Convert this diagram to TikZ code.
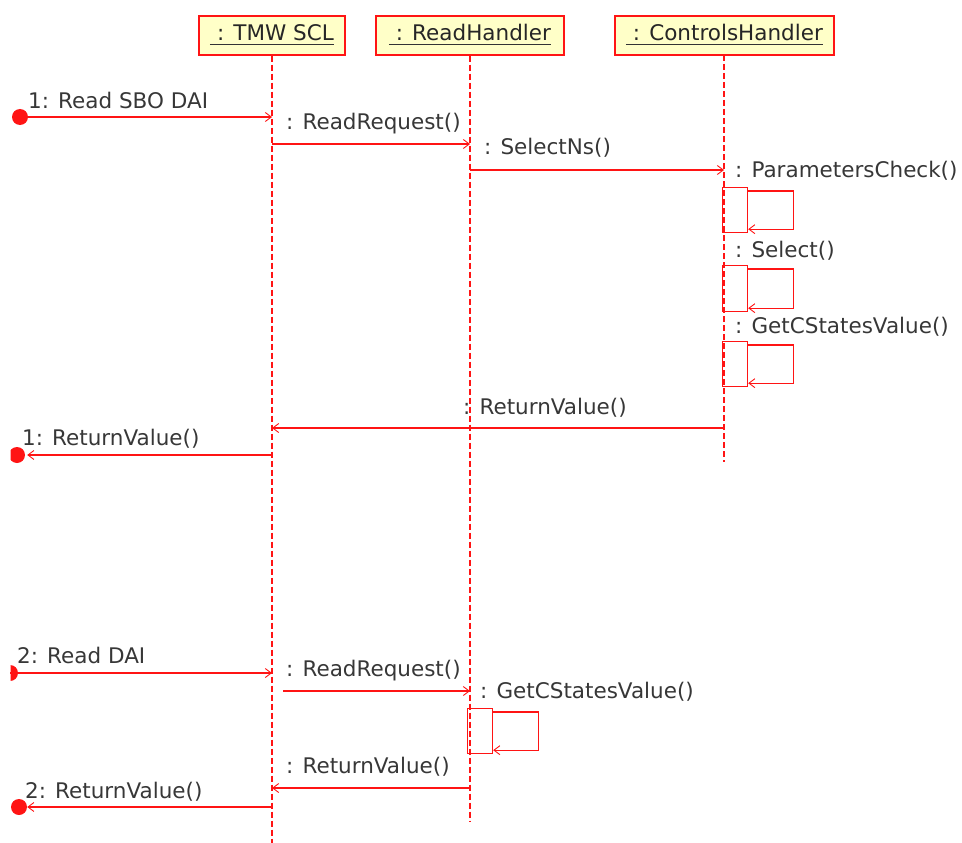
\documentclass[tikz,border=0pt]{standalone}
\usepackage{fontspec}
\setmainfont{DejaVu Sans}
\usetikzlibrary{arrows.meta}
\definecolor{lnred}{RGB}{255,20,20}
\definecolor{headfill}{RGB}{255,255,200}
\definecolor{txtgray}{RGB}{55,55,55}
\tikzset{
  every node/.style={font=\fontsize{21.5}{24}\selectfont, text=txtgray},
  headbox/.style={draw=lnred, fill=headfill, line width=1.2pt, inner sep=0pt},
  headtext/.style={anchor=base, inner sep=0pt, text=black!85},
  lifeline/.style={draw=lnred, line width=1.1pt, dash pattern=on 6pt off 3pt},
  msg/.style={draw=lnred, line width=1.1pt, -{Straight Barb[length=6pt,width=9pt,line width=0.9pt]}},
  lbl/.style={anchor=base west, inner sep=0pt},
  actbox/.style={draw=lnred, line width=1.2pt, inner sep=0pt, minimum width=25pt, anchor=north west},
  founddot/.style={circle, fill=lnred, draw=none, minimum size=16pt, inner sep=0pt},
}
\begin{document}
\begin{tikzpicture}[x=1pt, y=-1pt]
\useasboundingbox (0,0) rectangle (962,843);

% lifeline heads
\node[headbox, minimum width=146pt, minimum height=39pt] (tmw) at (272,35.5) {};
\node[headbox, minimum width=188pt, minimum height=39pt] (rh) at (470,35.5) {};
\node[headbox, minimum width=219pt, minimum height=39pt] (ch) at (724.5,35.5) {};
\node[headtext] (tmwt) at (272,41) {\ : TMW SCL\ };
\node[headtext] (rht) at (470,41) {\ : ReadHandler\ };
\node[headtext] (cht) at (724.5,41) {\ : ControlsHandler};
\foreach \t in {tmwt,rht,cht}
  \draw[black!80, line width=1.2pt] ([yshift=-3.5pt]\t.base west) -- ([yshift=-3.5pt]\t.base east);

% lifelines
\coordinate (tmwend) at (272,843);
\coordinate (rhend) at (470,822);
\coordinate (chend) at (724,462);
\draw[lifeline] (tmw.south) -- (tmwend);
\draw[lifeline] (rh.south) -- (rhend);
\draw[lifeline] (724,55) -- (chend);

% found / lost message end points
\begin{scope}
\clip (10.5,0) rectangle (962,843);
\node[founddot] (d1) at (20,117) {};
\node[founddot] (d2) at (17,455) {};
\node[founddot] (d3) at (10,673) {};
\node[founddot] (d4) at (19,807) {};
\end{scope}

% first scenario: select-before-operate read
\coordinate (t1) at (272,117);
\draw[msg] (d1.center) -- (t1);
\node[lbl] (l1) at (28,109) {1: Read SBO DAI};

\coordinate (t2) at (272,144);
\coordinate (r2) at (470,144);
\draw[msg] (t2) -- (r2);
\node[lbl] (l2) at (286,129) {: ReadRequest()};

\coordinate (r3) at (470,170);
\coordinate (c3) at (724,170);
\draw[msg] (r3) -- (c3);
\node[lbl] (l3) at (484,154) {: SelectNs()};

\node[actbox, minimum height=45pt] (a1) at (722,187) {};
\draw[msg] ([yshift=-4pt]a1.north east) -- ++(45pt,0) |- ([yshift=4pt]a1.south east);
\node[lbl] (l4) at (735,177) {: ParametersCheck()};

\node[actbox, minimum height=46pt] (a2) at (722,265) {};
\draw[msg] ([yshift=-4pt]a2.north east) -- ++(45pt,0) |- ([yshift=4pt]a2.south east);
\node[lbl] (l5) at (735,257) {: Select()};

\node[actbox, minimum height=45pt] (a3) at (722,341) {};
\draw[msg] ([yshift=-4pt]a3.north east) -- ++(45pt,0) |- ([yshift=4pt]a3.south east);
\node[lbl] (l6) at (735,333) {: GetCStatesValue()};

\coordinate (c7) at (724,428);
\coordinate (t7) at (272,428);
\draw[msg] (c7) -- (t7);
\node[lbl] (l7) at (463,414) {: ReturnValue()};

\coordinate (t8) at (272,455);
\draw[msg] (t8) -- ([xshift=2pt]d2.east);
\node[lbl] (l8) at (22,445) {1: ReturnValue()};

% second scenario: plain read
\coordinate (t9) at (272,673);
\draw[msg] (d3.center) -- (t9);
\node[lbl] (l9) at (17,663) {2: Read DAI};

\coordinate (t10) at (283,691);
\coordinate (r10) at (470,691);
\draw[msg] (t10) -- (r10);
\node[lbl] (l10) at (286,676) {: ReadRequest()};

\node[actbox, minimum height=45pt] (a4) at (467,708) {};
\draw[msg] ([yshift=-4pt]a4.north east) -- ++(45pt,0) |- ([yshift=4pt]a4.south east);
\node[lbl] (l11) at (480,698) {: GetCStatesValue()};

\coordinate (r12) at (470,788);
\coordinate (t12) at (272,788);
\draw[msg] (r12) -- (t12);
\node[lbl] (l12) at (286,773) {: ReturnValue()};

\coordinate (t13) at (272,807);
\draw[msg] (t13) -- (d4.east);
\node[lbl] (l13) at (25,798) {2: ReturnValue()};
\end{tikzpicture}
\end{document}
